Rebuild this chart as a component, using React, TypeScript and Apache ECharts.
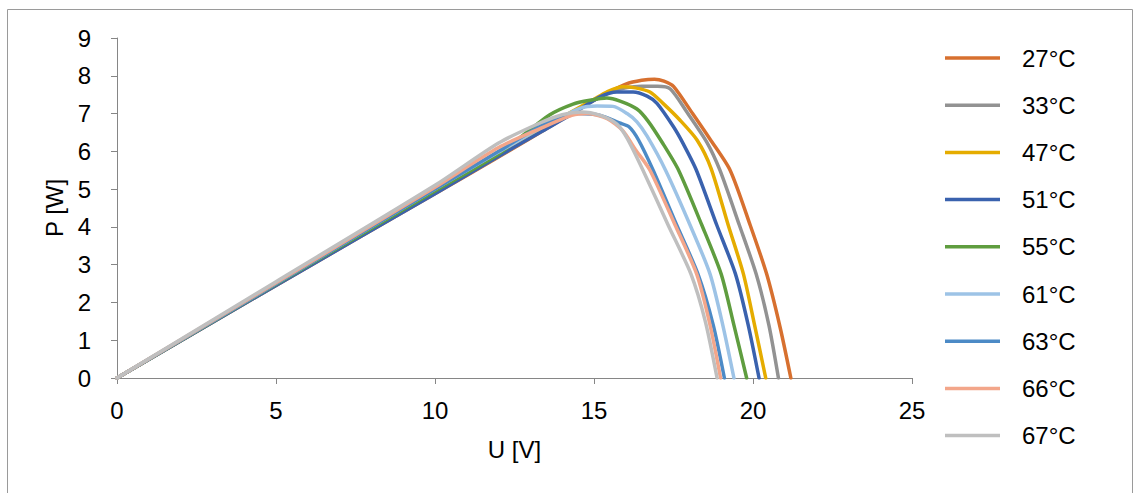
import React, { useEffect, useRef } from "react";
import * as echarts from "echarts";

const seriesNames = ["27°C", "33°C", "47°C", "51°C", "55°C", "61°C", "63°C", "66°C", "67°C"];
const seriesColors = ["#D7702F", "#929292", "#E5AC00", "#3A62AE", "#5F9D3F", "#9DC3E6", "#4C8AC6", "#F3A68A", "#BFBFBF"];

const xTicks = { min: 0, max: 25, interval: 5 };
const yTicks = { min: 0, max: 9, interval: 1 };

const t27 = [[0, 0], [5, 2.45], [10, 4.88], [12, 5.85], [14, 6.85], [15, 7.35], [15.5, 7.58], [16, 7.78], [16.5, 7.88], [16.9, 7.91], [17.2, 7.86], [17.5, 7.72], [18.1, 7.0], [18.65, 6.32], [19.28, 5.5], [19.91, 4.05], [20.43, 2.75], [20.85, 1.35], [21.19, 0]];
const t33 = [[0, 0], [5, 2.46], [10, 4.9], [12, 5.87], [14, 6.87], [15, 7.35], [15.5, 7.57], [16, 7.68], [16.5, 7.72], [17, 7.72], [17.4, 7.65], [17.92, 7.04], [18.55, 6.24], [18.96, 5.5], [19.57, 4.05], [20.1, 2.75], [20.5, 1.4], [20.8, 0]];
const t47 = [[0, 0], [5, 2.47], [10, 4.92], [12, 5.88], [14, 6.9], [15, 7.38], [15.4, 7.57], [15.9, 7.71], [16.3, 7.68], [16.76, 7.57], [17.17, 7.27], [17.7, 6.83], [18.24, 6.3], [18.68, 5.55], [19.22, 4.05], [19.7, 2.75], [20.05, 1.4], [20.4, 0]];
const t51 = [[0, 0], [5, 2.45], [10, 4.88], [12, 5.87], [13.3, 6.5], [14.34, 7.0], [15.19, 7.44], [15.72, 7.57], [16.23, 7.57], [16.67, 7.46], [16.98, 7.27], [17.5, 6.65], [17.8, 6.21], [18.22, 5.5], [18.86, 4.05], [19.45, 2.75], [19.85, 1.4], [20.19, 0]];
const t55 = [[0, 0], [5, 2.48], [10, 4.95], [12, 5.93], [13.6, 6.96], [14.34, 7.25], [14.87, 7.35], [15.4, 7.41], [15.82, 7.33], [16.35, 7.12], [16.7, 6.8], [17.17, 6.2], [17.66, 5.5], [18.39, 4.05], [19.0, 2.75], [19.4, 1.4], [19.8, 0]];
const t61 = [[0, 0], [5, 2.5], [10, 5.0], [12, 5.98], [13.5, 6.7], [14.56, 7.14], [15.1, 7.2], [15.6, 7.19], [16.04, 7.0], [16.35, 6.78], [16.67, 6.4], [17.25, 5.5], [18.02, 4.05], [18.65, 2.75], [19.05, 1.4], [19.4, 0]];
const t63 = [[0, 0], [5, 2.5], [10, 5.0], [12, 6.0], [13.5, 6.75], [14.5, 7.0], [15.2, 6.95], [15.8, 6.75], [16.1, 6.65], [16.4, 6.3], [16.86, 5.5], [17.6, 4.05], [18.27, 2.75], [18.75, 1.4], [19.1, 0]];
const t66 = [[0, 0], [5, 2.52], [10, 5.05], [12, 6.1], [13.3, 6.6], [14.3, 6.95], [14.8, 7.0], [15.4, 6.87], [15.9, 6.55], [16.3, 6.05], [16.76, 5.5], [17.55, 4.05], [18.23, 2.75], [18.65, 1.4], [18.98, 0]];
const t67 = [[0, 0], [5, 2.55], [10, 5.1], [12, 6.22], [13.3, 6.75], [14.0, 6.97], [14.6, 7.04], [15.2, 6.95], [15.72, 6.72], [16.04, 6.35], [16.54, 5.5], [17.33, 4.05], [18.05, 2.75], [18.5, 1.5], [18.87, 0]];

const seriesData = [t27, t33, t47, t51, t55, t61, t63, t66, t67];

export default function App() {
  const ref = useRef<HTMLDivElement>(null);
  useEffect(() => {
    if (!ref.current) return;
    const chart = echarts.init(ref.current, undefined, { renderer: "svg" });
    const font = "'Liberation Sans', Arial, sans-serif";
    const fs = 24;
    chart.setOption({
      animation: false,
      backgroundColor: "#ffffff",
      textStyle: { fontFamily: font },
      grid: { left: 117, right: 223, top: 38, bottom: 115, containLabel: false },
      graphic: [
        {
          type: "rect",
          shape: { x: 7.5, y: 9.5, width: 1125, height: 520 },
          style: { fill: "none", stroke: "#9a9a9a", lineWidth: 1 },
          silent: true,
        },
      ],
      xAxis: {
        type: "value",
        min: xTicks.min,
        max: xTicks.max,
        interval: xTicks.interval,
        name: "U [V]",
        nameLocation: "middle",
        nameGap: 59,
        nameTextStyle: { fontSize: fs, color: "#000", fontFamily: font },
        axisLine: { show: true, lineStyle: { color: "#868686", width: 1 } },
        axisTick: { show: true, inside: false, length: 6, lineStyle: { color: "#868686" } },
        axisLabel: { fontSize: fs, color: "#000", margin: 20, fontFamily: font },
        splitLine: { show: false },
      },
      yAxis: {
        type: "value",
        min: yTicks.min,
        max: yTicks.max,
        interval: yTicks.interval,
        name: "P [W]",
        nameLocation: "middle",
        nameGap: 47,
        nameRotate: 90,
        nameTextStyle: { fontSize: fs, color: "#000", fontFamily: font },
        axisLine: { show: true, lineStyle: { color: "#868686", width: 1 } },
        axisTick: { show: true, inside: false, length: 6, lineStyle: { color: "#868686" } },
        axisLabel: { fontSize: fs, color: "#000", margin: 26, fontFamily: font },
        splitLine: { show: false },
      },
      legend: {
        orient: "vertical",
        left: 940,
        top: 41,
        itemWidth: 55,
        itemHeight: 26,
        itemGap: 23.2,
        textStyle: { fontSize: fs, color: "#000", fontFamily: font, padding: [0, 0, 0, 17] },
        data: seriesNames.map((n, i) => ({
          name: n,
          icon: "path://M0,0 L55,0 L55,3.5 L0,3.5 Z",
          itemStyle: { color: seriesColors[i] },
        })),
      },
      series: seriesNames.map((n, i) => ({
        name: n,
        type: "line",
        data: seriesData[i],
        showSymbol: false,
        symbol: "none",
        smooth: 0.25,
        color: seriesColors[i],
        lineStyle: { width: 3.5, color: seriesColors[i], cap: "round", join: "round" },
      })),
    });
    return () => chart.dispose();
  }, []);
  return (
    <div
      ref={ref}
      style={{ position: "absolute", left: 0, top: 0, width: 1135, height: 493 }}
    />
  );
}
